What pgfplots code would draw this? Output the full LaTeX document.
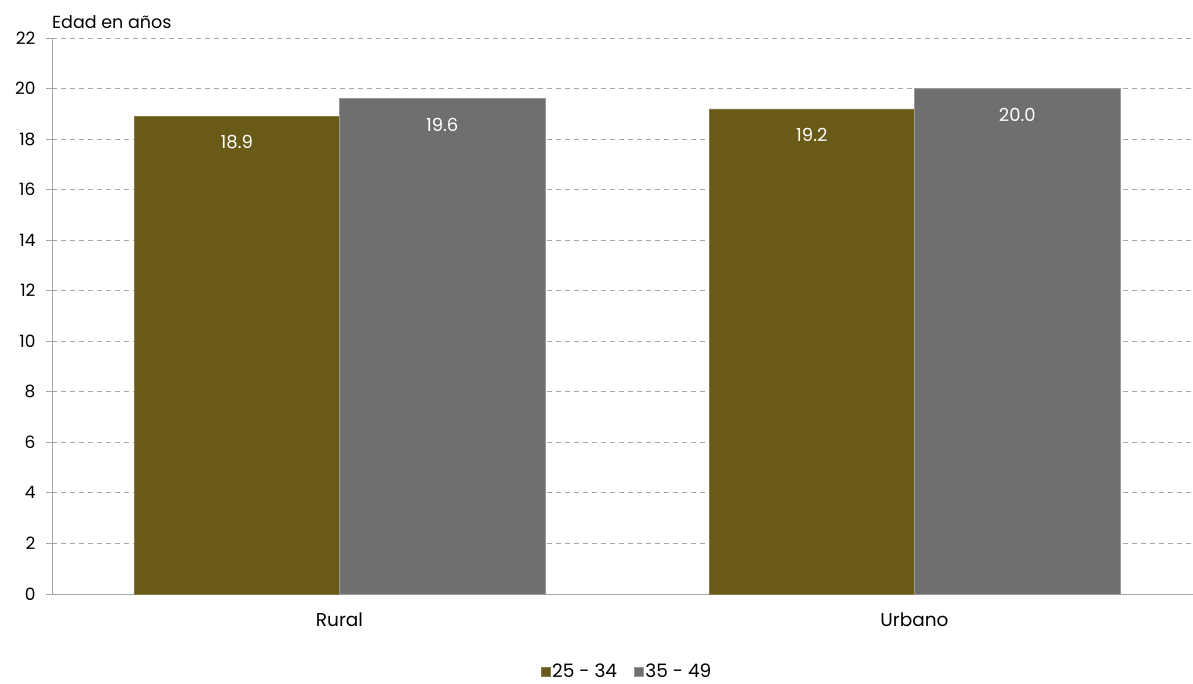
\documentclass[border=0pt]{standalone}
\usepackage{pgfplots}
\pgfplotsset{compat=1.18}
\usepackage{fontspec}
\setmainfont{Poppins}
\definecolor{olive}{RGB}{105,90,23}
\definecolor{gbar}{RGB}{111,111,111}
\definecolor{gridc}{RGB}{166,166,166}
\begin{document}
\begin{tikzpicture}
\useasboundingbox (-52pt,-89pt) rectangle (1141pt,594pt);
\begin{axis}[
  at={(0pt,0pt)}, anchor=south west,
  scale only axis, width=1141pt, height=556pt,
  ybar=0pt, bar width=205.5pt,
  xmin=-0.5, xmax=1.4843, ymin=0, ymax=22,
  xtick={0,1}, xticklabels={Rural,Urbano},
  minor xtick={-0.5,0.5,1.5},
  ytick={0,2,...,22},
  axis x line*=bottom, axis y line*=left,
  axis line style={gridc, line width=0.9pt},
  ymajorgrids, grid style={gridc, dashed, line width=0.9pt, dash pattern=on 5pt off 4pt},
  xtick style={draw=none},
  minor x tick style={gridc, line width=0.9pt},
  ytick style={gridc, line width=0.9pt},
  tick align=outside, major tick length=6pt, minor tick length=8pt,
  tick label style={font=\fontsize{17}{20}\selectfont, black},
  /pgf/number format/assume math mode=true,
  yticklabel style={xshift=-7pt},
  xticklabel style={yshift=-9pt, font=\fontsize{18.5}{22}\selectfont},
  nodes near coords,
  nodes near coords style={white, font=\fontsize{18}{21}\selectfont, anchor=center, yshift=-26pt,
    /pgf/number format/.cd, fixed, fixed zerofill, precision=1, assume math mode=true},
  legend style={at={(axis description cs:0.504,-0.1395)}, anchor=center, draw=none,
    font=\fontsize{18.5}{22}\selectfont, legend columns=2,
    /tikz/every even column/.append style={column sep=15pt}},
  legend image code/.code={\fill[#1] (0pt,-4.5pt) rectangle (9pt,4.5pt);},
  clip=false,
]
\addplot[fill=olive, draw=olive!80!white] coordinates {(0,18.9) (1,19.2)};
\addplot[fill=gbar, draw=gbar!70!white] coordinates {(0,19.6) (1,20.0)};
\legend{25 - 34, 35 - 49}
\node[anchor=base west, inner sep=0pt, font=\fontsize{17.5}{20}\selectfont] at (axis description cs:0,1) [yshift=9pt] {Edad en años};
\end{axis}
\end{tikzpicture}
\end{document}
